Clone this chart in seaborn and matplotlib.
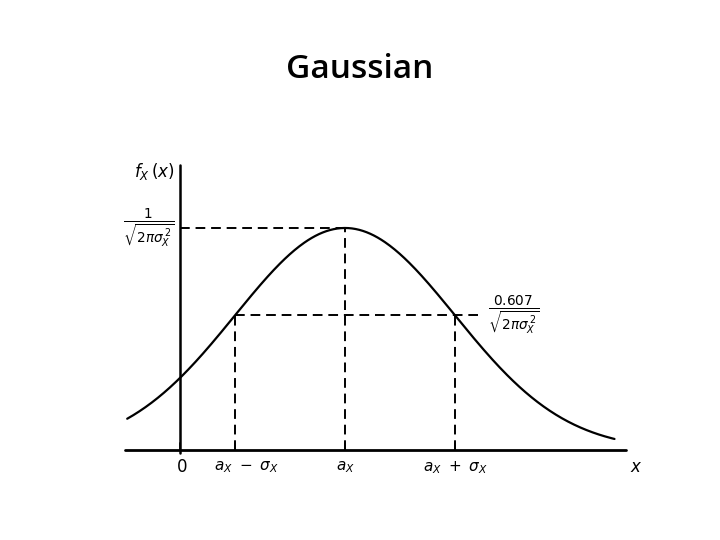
import numpy as np
import pandas as pd
import matplotlib
matplotlib.use("Agg")
import matplotlib.pyplot as plt
import seaborn as sns

# --- 数据 ---
mu = 1.5          # a_X
sigma = 1.0       # sigma_X
x_range = [-0.48, 3.95]
n_points = 400

sns.set_theme(style="white")
plt.rcParams['font.family'] = ['DejaVu Sans']
plt.rcParams['mathtext.fontset'] = 'dejavusans'
plt.rcParams['text.color'] = 'black'

x = np.linspace(x_range[0], x_range[1], n_points)
pdf = np.exp(-(x - mu) ** 2 / (2 * sigma ** 2)) / np.sqrt(2 * np.pi * sigma ** 2)
df = pd.DataFrame({'x': x, 'f': pdf})

peak = 1 / np.sqrt(2 * np.pi * sigma ** 2)
at_sigma = 0.607 * peak

fig = plt.figure(figsize=(7.2, 5.4), dpi=100)
ax = fig.add_axes([0, 0, 1, 1])
ax.set_xlim(-180 / 110, 540 / 110)
ax.set_ylim(-90 / 556.5, 450 / 556.5)
ax.axis('off')

# 曲线
sns.lineplot(data=df, x='x', y='f', ax=ax, color='black', linewidth=1.6)

# 坐标轴
ax.plot([-0.5, 4.05], [0, 0], color='black', linewidth=2)
ax.plot([0, 0], [-0.005, 0.512], color='black', linewidth=1.8)
for t in [0, mu - sigma, mu, mu + sigma]:
    ax.plot([t, t], [0, 0.012], color='black', linewidth=1.2)

# 虚线
dash = dict(color='black', linewidth=1.4, linestyle=(0, (5, 3)))
ax.plot([0, mu], [peak, peak], **dash)
ax.plot([mu, mu], [0, peak], **dash)
ax.plot([mu - sigma, 2.71], [at_sigma, at_sigma], **dash)
ax.plot([mu - sigma, mu - sigma], [0, at_sigma], **dash)
ax.plot([mu + sigma, mu + sigma], [0, at_sigma], **dash)

# 文字
fig.text(0.5, 1 - 69 / 540, 'Gaussian', ha='center', va='center',
         fontsize=24, fontweight='semibold', family=['Open Sans', 'DejaVu Sans'])
ax.text(-0.05, 0.50, r'$f_X\,(x)$', ha='right', va='center', fontsize=12)
ax.text(-0.05, peak, r'$\frac{1}{\sqrt{2\pi\sigma_X^{\,2}}}$', ha='right', va='center', fontsize=14)
ax.text(2.8, at_sigma, r'$\frac{0.607}{\sqrt{2\pi\sigma_X^{\,2}}}$', ha='left', va='center', fontsize=14)
ylab = -0.031
ax.text(0.02, ylab, '0', ha='center', va='center', fontsize=12)
ax.text(mu - sigma + 0.1, ylab, r'$a_X\ -\ \sigma_X$', ha='center', va='center', fontsize=11)
ax.text(mu, ylab, r'$a_X$', ha='center', va='center', fontsize=11)
ax.text(mu + sigma, ylab, r'$a_X\ +\ \sigma_X$', ha='center', va='center', fontsize=11)
ax.text(4.15, ylab, r'$x$', ha='center', va='center', fontsize=12)

fig.savefig('out.png', dpi=100)
